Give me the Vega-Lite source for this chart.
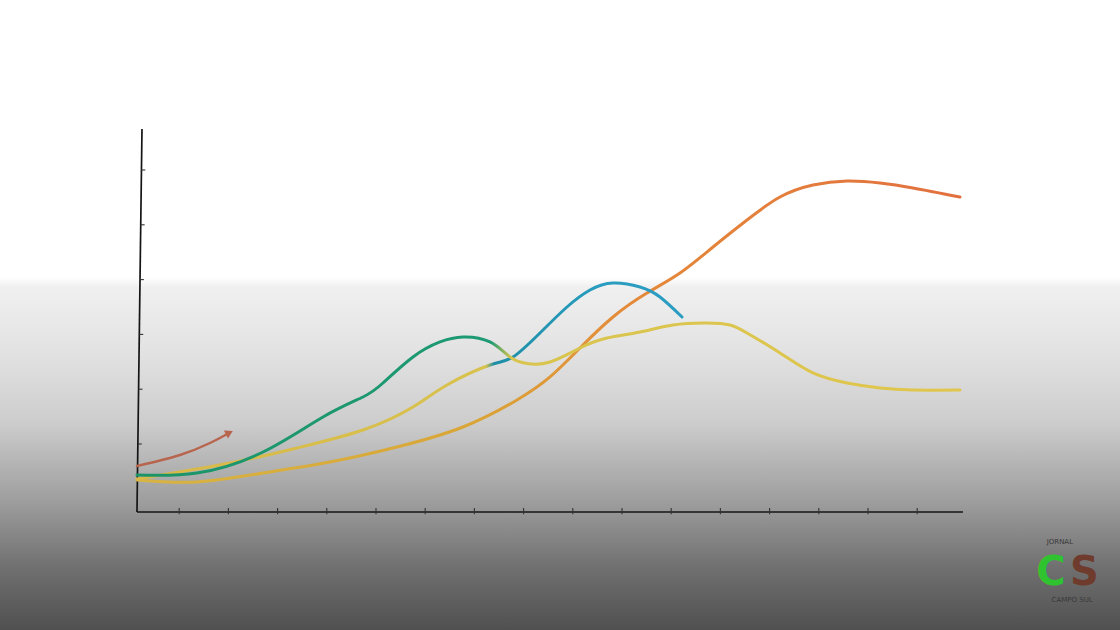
{
  "$schema": "https://vega.github.io/schema/vega-lite/v6.json",
  "width": 1120,
  "height": 630,
  "autosize": {"type": "fit", "contains": "padding"},
  "padding": 0,
  "background": "#ffffff",
  "config": {"view": {"stroke": null}},
  "datasets": {
    "lines": [
      {"s": "A", "x": 0.142, "y": 0.434}, {"s": "A", "x": 1.362, "y": 0.471}, {"s": "A", "x": 2.703, "y": 0.854},
      {"s": "A", "x": 3.923, "y": 1.493}, {"s": "A", "x": 4.736, "y": 1.858}, {"s": "A", "x": 5.142, "y": 2.113},
      {"s": "A", "x": 5.752, "y": 2.588}, {"s": "A", "x": 6.301, "y": 2.862}, {"s": "A", "x": 6.768, "y": 2.953},
      {"s": "A", "x": 7.317, "y": 2.862}, {"s": "A", "x": 7.724, "y": 2.588}, {"s": "A", "x": 8.069, "y": 2.47},
      {"s": "A", "x": 8.537, "y": 2.496}, {"s": "A", "x": 9.146, "y": 2.752}, {"s": "A", "x": 9.695, "y": 2.934},
      {"s": "A", "x": 10.366, "y": 3.044}, {"s": "A", "x": 11.037, "y": 3.172}, {"s": "A", "x": 11.728, "y": 3.208},
      {"s": "A", "x": 12.195, "y": 3.172}, {"s": "A", "x": 12.541, "y": 3.026}, {"s": "A", "x": 13.211, "y": 2.661},
      {"s": "A", "x": 13.882, "y": 2.296}, {"s": "A", "x": 14.573, "y": 2.113}, {"s": "A", "x": 15.244, "y": 2.022},
      {"s": "A", "x": 15.915, "y": 1.985}, {"s": "A", "x": 16.87, "y": 1.985},
      {"s": "B", "x": 0.142, "y": 0.361}, {"s": "B", "x": 2.033, "y": 0.653}, {"s": "B", "x": 3.394, "y": 0.927},
      {"s": "B", "x": 4.736, "y": 1.255}, {"s": "B", "x": 5.752, "y": 1.675}, {"s": "B", "x": 6.443, "y": 2.077},
      {"s": "B", "x": 7.317, "y": 2.442}, {"s": "B", "x": 7.785, "y": 2.588}, {"s": "B", "x": 8.333, "y": 3.026},
      {"s": "B", "x": 8.882, "y": 3.5}, {"s": "B", "x": 9.35, "y": 3.81}, {"s": "B", "x": 9.817, "y": 3.938},
      {"s": "B", "x": 10.366, "y": 3.865}, {"s": "B", "x": 10.772, "y": 3.682}, {"s": "B", "x": 11.22, "y": 3.318},
      {"s": "C", "x": 0.142, "y": 0.343}, {"s": "C", "x": 1.362, "y": 0.307}, {"s": "C", "x": 2.703, "y": 0.471},
      {"s": "C", "x": 4.065, "y": 0.672}, {"s": "C", "x": 5.427, "y": 0.945}, {"s": "C", "x": 6.768, "y": 1.31},
      {"s": "C", "x": 7.866, "y": 1.803}, {"s": "C", "x": 8.537, "y": 2.223}, {"s": "C", "x": 9.146, "y": 2.752},
      {"s": "C", "x": 9.817, "y": 3.318}, {"s": "C", "x": 10.508, "y": 3.755}, {"s": "C", "x": 11.179, "y": 4.12},
      {"s": "C", "x": 11.85, "y": 4.595}, {"s": "C", "x": 12.541, "y": 5.088}, {"s": "C", "x": 13.211, "y": 5.507},
      {"s": "C", "x": 13.882, "y": 5.726}, {"s": "C", "x": 14.573, "y": 5.799}, {"s": "C", "x": 15.244, "y": 5.763},
      {"s": "C", "x": 15.915, "y": 5.672}, {"s": "C", "x": 16.87, "y": 5.507}
    ],
    "arrow": [
      {"x": 0.142, "y": 0.599}, {"x": 1.016, "y": 0.799}, {"x": 1.626, "y": 1.018}, {"x": 1.95, "y": 1.17}
    ],
    "arrowhead": [{"x": 2.02, "y": 1.205}],
    "axes": [
      {"x": 0.142, "y": -0.241, "x2": 16.931, "y2": -0.241},
      {"x": 0.142, "y": -0.241, "x2": 0.244, "y2": 6.748}
    ],
    "xticks": [
      {"x": 1}, {"x": 2}, {"x": 3}, {"x": 4}, {"x": 5}, {"x": 6}, {"x": 7}, {"x": 8},
      {"x": 9}, {"x": 10}, {"x": 11}, {"x": 12}, {"x": 13}, {"x": 14}, {"x": 15}, {"x": 16}
    ],
    "yticks": [
      {"y": 1, "x": 0.16, "x2": 0.24}, {"y": 2, "x": 0.175, "x2": 0.255}, {"y": 3, "x": 0.189, "x2": 0.269},
      {"y": 4, "x": 0.203, "x2": 0.283}, {"y": 5, "x": 0.218, "x2": 0.298}, {"y": 6, "x": 0.232, "x2": 0.312}
    ],
    "logoBig": [
      {"label": "C", "x": 18.72, "y": -1.35},
      {"label": "S", "x": 19.4, "y": -1.35}
    ],
    "logoSmall": [
      {"label": "JORNAL", "x": 18.9, "y": -0.78},
      {"label": "CAMPO SUL", "x": 19.15, "y": -1.85}
    ]
  },
  "layer": [
    {
      "data": {"values": [{}]},
      "mark": {
        "type": "rect",
        "fill": {
          "gradient": "linear", "x1": 0, "y1": 0, "x2": 0, "y2": 1,
          "stops": [
            {"offset": 0, "color": "#ffffff"},
            {"offset": 0.44, "color": "#ffffff"},
            {"offset": 0.455, "color": "#f0f0f0"},
            {"offset": 0.56, "color": "#e2e2e2"},
            {"offset": 0.67, "color": "#cdcdcd"},
            {"offset": 0.8, "color": "#9c9c9c"},
            {"offset": 0.9, "color": "#707070"},
            {"offset": 1, "color": "#505050"}
          ]
        }
      },
      "encoding": {}
    },
    {
      "data": {"name": "axes"},
      "mark": {"type": "rule", "color": "#151515", "strokeWidth": 1.7},
      "encoding": {
        "x": {"field": "x", "type": "quantitative", "scale": {"domain": [-2.642, 20.122], "nice": false, "zero": false}, "axis": null},
        "y": {"field": "y", "type": "quantitative", "scale": {"domain": [-2.394, 9.102], "nice": false, "zero": false}, "axis": null},
        "x2": {"field": "x2"},
        "y2": {"field": "y2"}
      }
    },
    {
      "data": {"name": "xticks"},
      "mark": {"type": "rule", "color": "#333333", "strokeWidth": 1.1},
      "encoding": {
        "x": {"field": "x", "type": "quantitative", "axis": null},
        "y": {"datum": -0.28, "type": "quantitative", "axis": null},
        "y2": {"datum": -0.17}
      }
    },
    {
      "data": {"name": "yticks"},
      "mark": {"type": "rule", "color": "#333333", "strokeWidth": 1.1},
      "encoding": {
        "x": {"field": "x", "type": "quantitative", "axis": null},
        "x2": {"field": "x2"},
        "y": {"field": "y", "type": "quantitative", "axis": null}
      }
    },
    {
      "data": {"name": "arrow"},
      "mark": {"type": "line", "interpolate": "natural", "color": "#b8654e", "strokeWidth": 2.4, "strokeCap": "round"},
      "encoding": {
        "x": {"field": "x", "type": "quantitative", "axis": null},
        "y": {"field": "y", "type": "quantitative", "axis": null}
      }
    },
    {
      "data": {"name": "arrowhead"},
      "mark": {"type": "point", "shape": "triangle-right", "filled": true, "color": "#b8654e", "size": 80, "angle": 333, "opacity": 1},
      "encoding": {
        "x": {"field": "x", "type": "quantitative", "axis": null},
        "y": {"field": "y", "type": "quantitative", "axis": null}
      }
    },
    {
      "data": {"name": "lines"},
      "transform": [{"filter": "datum.s === 'C'"}],
      "mark": {
        "type": "line", "interpolate": "natural", "strokeWidth": 3, "strokeCap": "round",
        "stroke": {
          "gradient": "linear", "x1": 0, "y1": 0, "x2": 1, "y2": 0,
          "stops": [
            {"offset": 0, "color": "#d8b443"},
            {"offset": 0.4, "color": "#d9a636"},
            {"offset": 0.6, "color": "#e48a3a"},
            {"offset": 1, "color": "#e2703e"}
          ]
        }
      },
      "encoding": {
        "x": {"field": "x", "type": "quantitative", "axis": null},
        "y": {"field": "y", "type": "quantitative", "axis": null},
        "order": {"field": "x"}
      }
    },
    {
      "data": {"name": "lines"},
      "transform": [{"filter": "datum.s === 'B'"}],
      "mark": {
        "type": "line", "interpolate": "natural", "strokeWidth": 3, "strokeCap": "round",
        "stroke": {
          "gradient": "linear", "x1": 0, "y1": 0, "x2": 1, "y2": 0,
          "stops": [
            {"offset": 0, "color": "#d8b848"},
            {"offset": 0.64, "color": "#d8c24c"},
            {"offset": 0.655, "color": "#1d8ea6"},
            {"offset": 0.85, "color": "#2a9dc0"},
            {"offset": 1, "color": "#2b9cc2"}
          ]
        }
      },
      "encoding": {
        "x": {"field": "x", "type": "quantitative", "axis": null},
        "y": {"field": "y", "type": "quantitative", "axis": null},
        "order": {"field": "x"}
      }
    },
    {
      "data": {"name": "lines"},
      "transform": [{"filter": "datum.s === 'A'"}],
      "mark": {
        "type": "line", "interpolate": "natural", "strokeWidth": 3, "strokeCap": "round",
        "stroke": {
          "gradient": "linear", "x1": 0, "y1": 0, "x2": 1, "y2": 0,
          "stops": [
            {"offset": 0, "color": "#1b9468"},
            {"offset": 0.43, "color": "#1d9a74"},
            {"offset": 0.455, "color": "#d8c44e"},
            {"offset": 1, "color": "#e0c64c"}
          ]
        }
      },
      "encoding": {
        "x": {"field": "x", "type": "quantitative", "axis": null},
        "y": {"field": "y", "type": "quantitative", "axis": null},
        "order": {"field": "x"}
      }
    },
    {
      "data": {"name": "logoBig"},
      "mark": {"type": "text", "fontSize": 40, "fontWeight": "bold", "font": "DejaVu Sans", "align": "center", "baseline": "middle"},
      "encoding": {
        "x": {"field": "x", "type": "quantitative", "axis": null},
        "y": {"field": "y", "type": "quantitative", "axis": null},
        "text": {"field": "label"},
        "color": {"field": "label", "type": "nominal", "scale": {"domain": ["C", "S"], "range": ["#2fc42f", "#6e3b2c"]}, "legend": null}
      }
    },
    {
      "data": {"name": "logoSmall"},
      "mark": {"type": "text", "fontSize": 7, "font": "DejaVu Sans", "color": "#3a3a3a", "align": "center", "baseline": "middle"},
      "encoding": {
        "x": {"field": "x", "type": "quantitative", "axis": null},
        "y": {"field": "y", "type": "quantitative", "axis": null},
        "text": {"field": "label"}
      }
    }
  ]
}
